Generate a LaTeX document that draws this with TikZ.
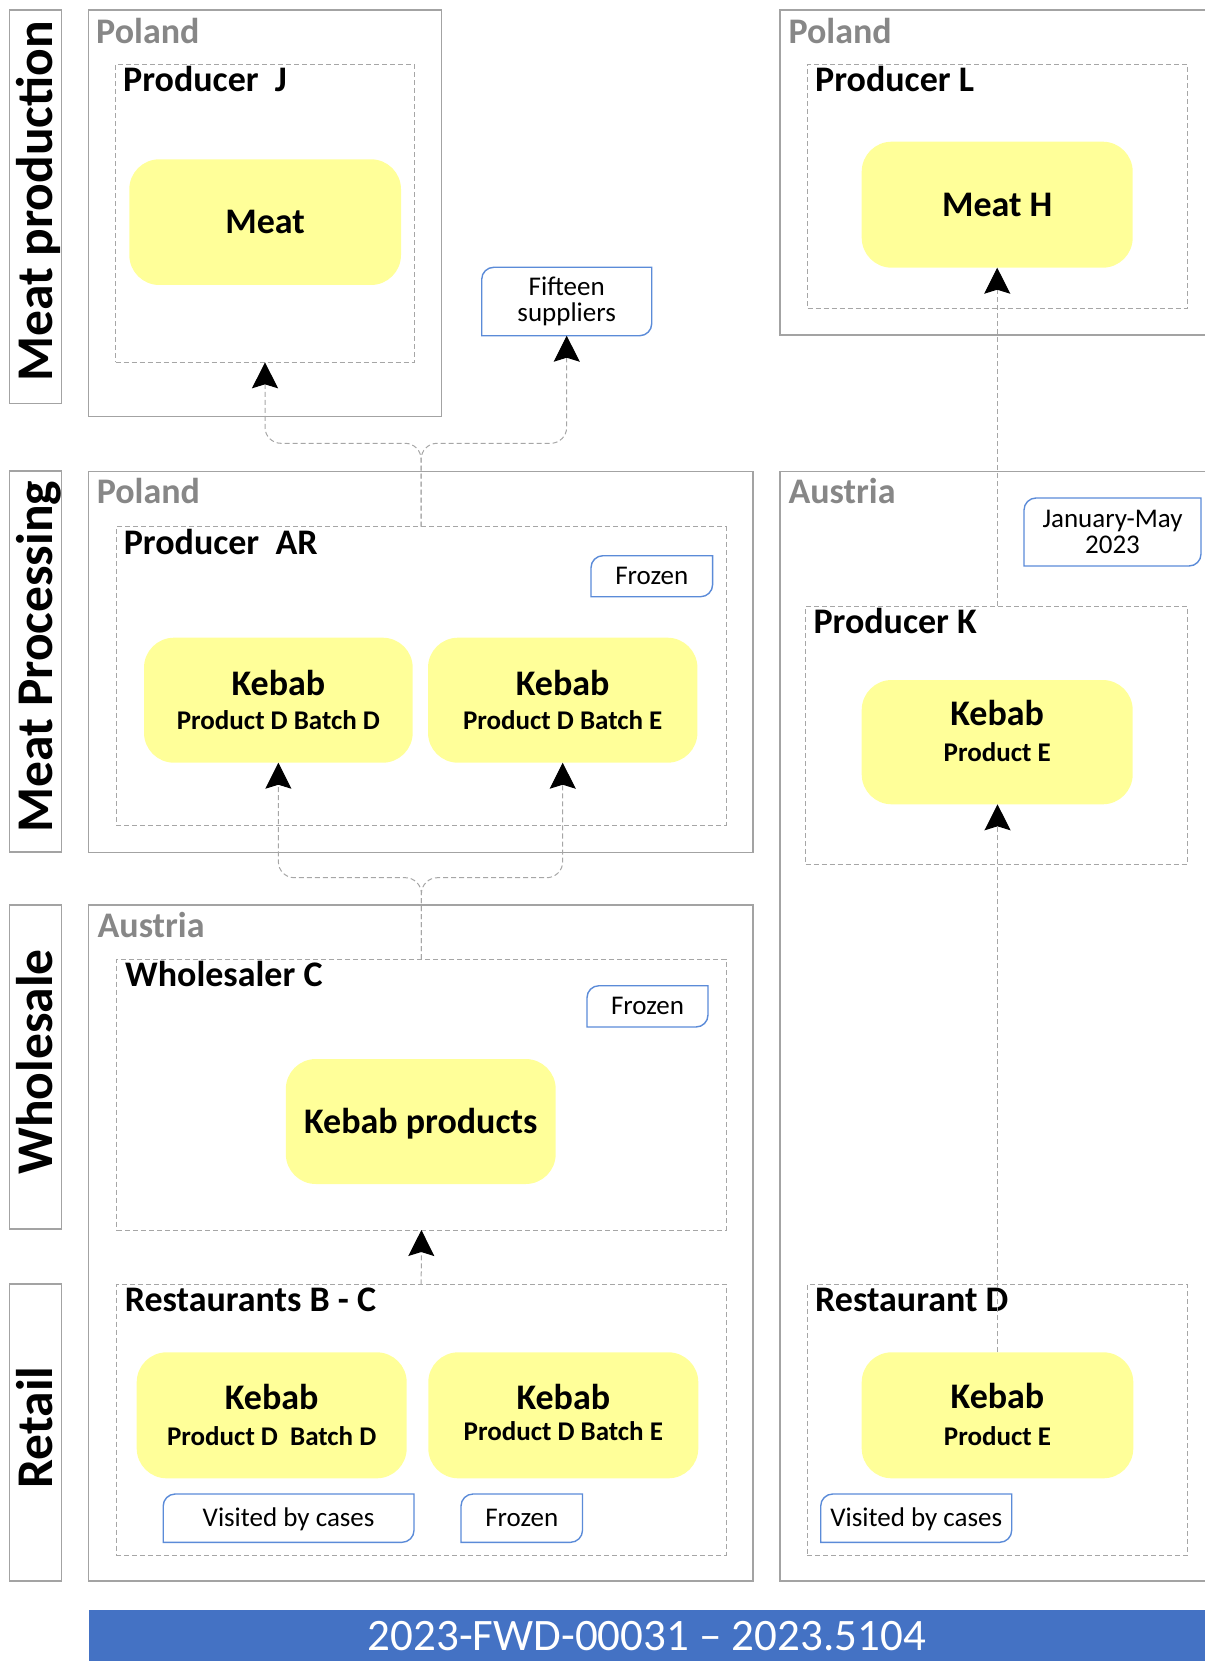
\documentclass[tikz,border=0pt]{standalone}
\usepackage{fontspec}
\setmainfont{Carlito}
\usetikzlibrary{arrows.meta,calc}
\definecolor{boxgray}{HTML}{A3A3A3}
\definecolor{dashgray}{HTML}{A6A6A6}
\definecolor{lblgray}{HTML}{878787}
\definecolor{ylw}{HTML}{FFFF99}
\definecolor{callblue}{HTML}{5B8BD8}
\definecolor{footblue}{HTML}{4472C4}
% name, style, x1, y1, x2, y2, text
\newcommand\bx[7]{\node[#2,anchor=north west,inner sep=0pt,outer sep=0pt,minimum width={#5pt-#3pt},minimum height={#6pt-#4pt}] (#1) at (#3,-#4) {#7};}
% callout: name, style, x1, y1, x2, y2, text
\newcommand\cbx[7]{\bx{#1}{#2}{#3}{#4}{#5}{#6}{#7}%
  \draw[callline] ($(#1.north west)+(0,-12)$) arc[start angle=180,end angle=90,radius=12] -- (#1.north east) -- ($(#1.south east)+(0,12)$) arc[start angle=0,end angle=-90,radius=12] -- (#1.south west) -- cycle;}
\begin{document}
\begin{tikzpicture}[x=1pt,y=1pt,
  lanebox/.style={draw=boxgray,line width=1.2pt},
  ctrybox/.style={draw=boxgray,line width=1.2pt},
  nobox/.style={},
  dbox/.style={draw=dashgray,line width=0.9pt,dash pattern=on 5pt off 3pt},
  ybox/.style={fill=ylw,rounded corners=30pt,font=\fontsize{36}{40}\selectfont\bfseries,text height=23pt,text depth=0pt},
  calltext/.style={font=\fontsize{27}{26.7}\selectfont,text height=17pt,text depth=0pt},
  calltexttwo/.style={font=\fontsize{27}{26.7}\selectfont,align=center},
  callline/.style={draw=callblue,line width=1.4pt},
  footbox/.style={fill=footblue,text=white,font=\fontsize{45}{50}\selectfont,text height=29pt,text depth=0pt},
  lanetxt/.style={font=\fontsize{51.5}{56}\selectfont\bfseries,inner sep=0pt,rotate=90,anchor=base},
  ctrylbl/.style={font=\fontsize{36}{40}\selectfont\bfseries,text=lblgray,inner sep=0pt,anchor=base west},
  prodlbl/.style={font=\fontsize{36}{40}\selectfont\bfseries,inner sep=0pt,anchor=base west},
  kebtxt/.style={font=\fontsize{36}{40}\selectfont\bfseries,inner sep=0pt,anchor=base},
  prodtxt/.style={font=\fontsize{27}{30}\selectfont\bfseries,inner sep=0pt,anchor=base},
  conn/.style={draw=dashgray,line width=1pt,dash pattern=on 5pt off 3pt,rounded corners=16pt,-{Stealth[length=26pt,width=26pt,inset=4pt,color=black,fill=black]}}
]
\useasboundingbox (0,0) rectangle (1205,-1661);

% lane labels
\bx{lb1}{lanebox}{9.5}{10}{61.7}{403.3}{}
\bx{lb2}{lanebox}{9.5}{471}{61.7}{852}{}
\bx{lb3}{lanebox}{9.5}{905}{61.7}{1229}{}
\bx{lb4}{lanebox}{9.5}{1284}{61.7}{1581}{}
\node[lanetxt] (tl1) at (52,-201.5) {Meat production};
\node[lanetxt] (tl2) at (52,-656.5) {Meat Processing};
\node[lanetxt] (tl3) at (52,-1062) {Wholesale};
\node[lanetxt] (tl4) at (52,-1427.5) {Retail};

% country boxes
\bx{pl1}{ctrybox}{88.7}{10}{441.7}{416.7}{}
\bx{pl2}{nobox}{780}{10}{1205}{335}{}
\draw[ctrybox] (pl2.north east) -- (pl2.north west) -- (pl2.south west) -- (pl2.south east);
\bx{pl3}{ctrybox}{88.7}{471.7}{753}{852.5}{}
\bx{at1}{nobox}{780}{471.7}{1205}{1581}{}
\draw[ctrybox] (at1.north east) -- (at1.north west) -- (at1.south west) -- (at1.south east);
\bx{at2}{ctrybox}{88.7}{905}{753}{1581}{}

\node[ctrylbl] (tpl1) at (96,-43.3) {Poland};
\node[ctrylbl] (tpl2) at (788.3,-43.3) {Poland};
\node[ctrylbl] (tpl3) at (96.6,-503.3) {Poland};
\node[ctrylbl] (tat1) at (788.3,-503.3) {Austria};
\node[ctrylbl] (tat2) at (97.4,-937.3) {Austria};

% dashed boxes
\bx{pj}{dbox}{115.7}{64.3}{414.3}{362.3}{}
\bx{pL}{dbox}{807.7}{64.3}{1187.3}{308.3}{}
\bx{ar}{dbox}{116.2}{526.7}{726}{825}{}
\bx{pk}{dbox}{805.7}{606}{1187.3}{864}{}
\bx{wc}{dbox}{116.8}{959}{726}{1230}{}
\bx{rbc}{dbox}{116.4}{1284.3}{726}{1555.7}{}
\bx{rd}{dbox}{807.3}{1284.3}{1187.3}{1555.7}{}

\node[prodlbl] (tpj) at (123,-91.7) {Producer~~J};
\node[prodlbl] (tpL) at (815,-91.7) {Producer L};
\node[prodlbl] (tar) at (123.6,-554) {Producer~~AR};
\node[prodlbl] (tpk) at (813.3,-633.3) {Producer K};
\node[prodlbl] (twc) at (125,-986.7) {Wholesaler C};
\node[prodlbl] (trbc) at (124.6,-1311.7) {Restaurants B - C};
\node[prodlbl] (trd) at (815,-1311.7) {Restaurant D};

% yellow boxes
\bx{meat}{ybox}{129.3}{159.3}{401}{285}{Meat}
\bx{mh}{ybox}{861.7}{141.7}{1132.7}{267.7}{Meat H}
\bx{ard}{ybox}{144}{637.7}{412.7}{762.7}{}
\bx{are}{ybox}{428}{637.7}{697.4}{762.7}{}
\bx{kk}{ybox}{861.7}{680}{1132.7}{804.3}{}
\bx{kp}{ybox}{285.8}{1059}{555.7}{1184}{Kebab products}
\bx{rbd}{ybox}{136.7}{1352.3}{406.7}{1478.3}{}
\bx{rbe}{ybox}{428.3}{1352.3}{698.3}{1478.3}{}
\bx{rdk}{ybox}{861.7}{1352.3}{1133.3}{1478.3}{}

\node[kebtxt] (k1) at (278.4,-695) {Kebab};
\node[prodtxt] (p1) at (278.4,-729.3) {Product D Batch D};
\node[kebtxt] (k2) at (562.7,-695) {Kebab};
\node[prodtxt] (p2) at (562.7,-729.3) {Product D Batch E};
\node[kebtxt] (k3) at (997.2,-725) {Kebab};
\node[prodtxt] (p3) at (997.2,-761.7) {Product E};
\node[kebtxt] (k4) at (271.7,-1409.3) {Kebab};
\node[prodtxt] (p4) at (271.7,-1445) {Product D~~Batch D};
\node[kebtxt] (k5) at (563.3,-1409.3) {Kebab};
\node[prodtxt] (p5) at (563.3,-1440) {Product D Batch E};
\node[kebtxt] (k6) at (997.5,-1408) {Kebab};
\node[prodtxt] (p6) at (997.5,-1445) {Product E};

% callouts
\cbx{fif}{calltexttwo}{481.7}{267.3}{651.7}{335.7}{Fifteen\\suppliers}
\cbx{frz1}{calltext}{591}{555.7}{712.6}{596.7}{Frozen}
\cbx{jan}{calltexttwo}{1024}{498}{1201}{566}{January-May\\2023}
\cbx{frz2}{calltext}{587}{985.7}{708}{1027}{Frozen}
\cbx{vis1}{calltext}{163.2}{1494}{414}{1542.3}{Visited by cases}
\cbx{frz3}{calltext}{461}{1494}{582.5}{1542.3}{Frozen}
\cbx{vis2}{calltext}{820.7}{1494}{1011.7}{1542.3}{Visited by cases}

% footer
\bx{foot}{footbox}{88.7}{1610}{1205}{1661}{2023-FWD-00031 – 2023.5104}

% connectors
\coordinate (fk1) at (0,-443.3);
\coordinate (fk2) at (0,-877.7);
\draw[conn] (ar.north) -- (ar.north |- fk1) -- (pj.south |- fk1) -- (pj.south);
\draw[conn] (ar.north) -- (ar.north |- fk1) -- (fif.south |- fk1) -- (fif.south);
\draw[conn] (wc.north) -- (wc.north |- fk2) -- (ard.south |- fk2) -- (ard.south);
\draw[conn] (wc.north) -- (wc.north |- fk2) -- (are.south |- fk2) -- (are.south);
\draw[conn] (rbc.north) -- (wc.south);
\draw[conn] (rdk.north) -- (rdk.north |- kk.south);
\draw[conn] (pk.north -| mh.south) -- (mh.south);
\end{tikzpicture}
\end{document}
